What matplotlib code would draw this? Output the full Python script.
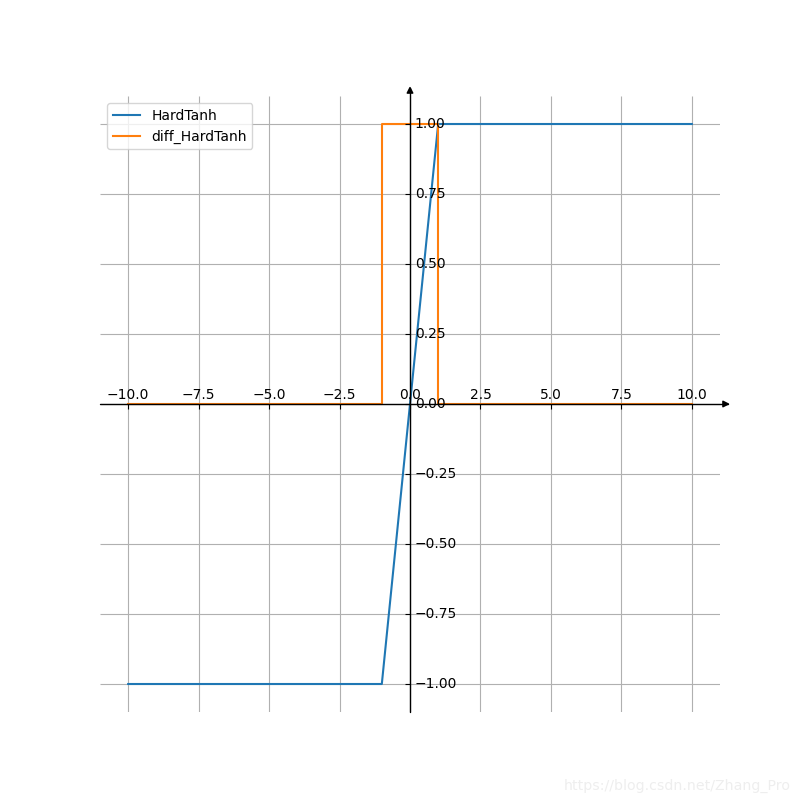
import matplotlib
matplotlib.use("Agg")
import matplotlib.pyplot as plt
import mpl_toolkits.axisartist as axisartist

# HardTanh and its derivative, as breakpoints
hardtanh_x = [-10, -1, 1, 10]
hardtanh_y = [-1, -1, 1, 1]
diff_x = [-10, -1, -1, 1, 1, 10]
diff_y = [0, 0, 1, 1, 0, 0]

fig = plt.figure(figsize=(8, 8), dpi=100)
ax = axisartist.Subplot(fig, 111)
fig.add_axes(ax)

# axes through the origin with arrow heads
ax.axis[:].set_visible(False)
ax.axis["x"] = ax.new_floating_axis(0, 0)
ax.axis["x"].set_axisline_style("-|>", size=1.0)
ax.axis["y"] = ax.new_floating_axis(1, 0)
ax.axis["y"].set_axisline_style("-|>", size=1.0)
ax.axis["x"].set_axis_direction("top")
ax.axis["y"].set_axis_direction("right")

ax.plot(hardtanh_x, hardtanh_y, label="HardTanh")
ax.plot(diff_x, diff_y, label="diff_HardTanh")
ax.grid(True)
ax.legend(loc="upper left")

fig.text(0.988, 0.009, "https://blog.csdn.net/Zhang_Pro", ha="right", va="bottom",
         fontsize=10.2, color="#eeeeee")

fig.savefig("out.png", dpi=100)
